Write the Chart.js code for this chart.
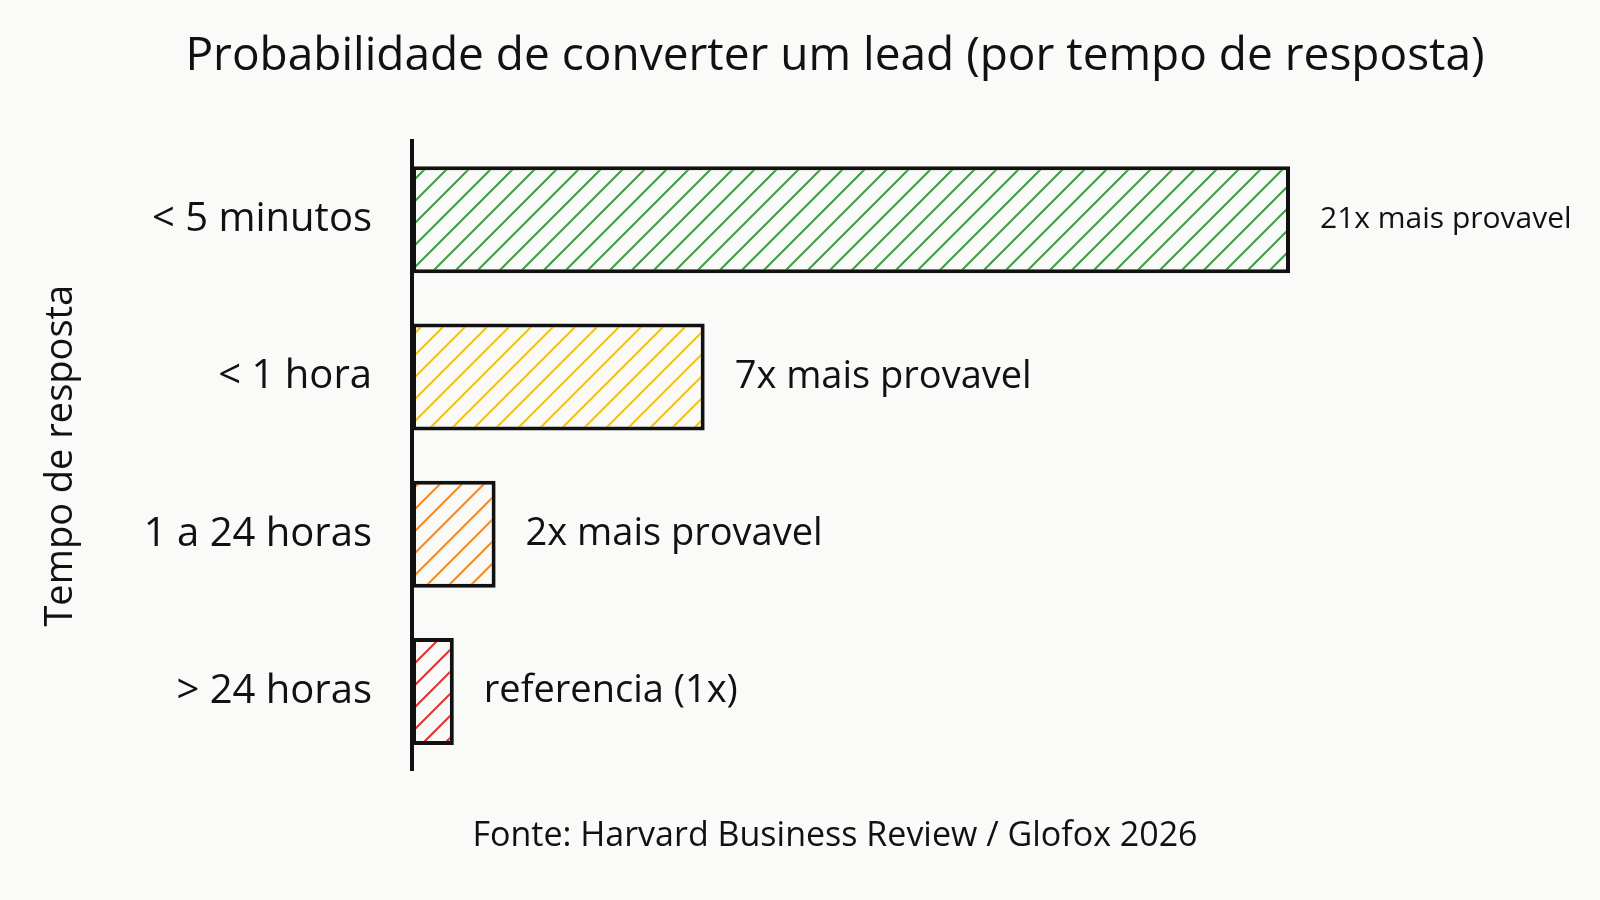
<!DOCTYPE html>
<html><head><meta charset="utf-8">
<script src="https://cdn.jsdelivr.net/npm/chart.js@4.4.1/dist/chart.umd.min.js"></script>
<style>html,body{margin:0;padding:0;background:#fafaf9;}</style>
</head><body>
<canvas id="c" width="1600" height="900"></canvas>
<script>
const categories = ['< 5 minutos', '< 1 hora', '1 a 24 horas', '> 24 horas'];
const likelihood = [21, 7, 2, 1];
const valueLabels = ['21x mais provavel', '7x mais provavel', '2x mais provavel', 'referencia (1x)'];
const barColors = ['#3f9b45', '#f0c21e', '#f18a2a', '#e3302f'];
const titleText = 'Probabilidade de converter um lead (por tempo de resposta)';
const axisTitle = 'Tempo de resposta';
const sourceText = 'Fonte: Harvard Business Review / Glofox 2026';

const F = "'Open Sans', 'Noto Sans', sans-serif";
const INK = '#111111';
const BG = '#fafaf9';

const canvas = document.getElementById('c');
const ctx0 = canvas.getContext('2d');
function hatch(color) {
  const s = 22;
  const c = document.createElement('canvas');
  c.width = s; c.height = s;
  const g = c.getContext('2d');
  g.fillStyle = BG; g.fillRect(0, 0, s, s);
  g.strokeStyle = color; g.lineWidth = 2;
  g.beginPath();
  g.moveTo(-2, s + 2); g.lineTo(s + 2, -2);
  g.moveTo(-s / 2 - 2, s / 2 + 2); g.lineTo(s / 2 + 2, -s / 2 - 2);
  g.moveTo(s / 2 - 2, s * 1.5 + 2); g.lineTo(s * 1.5 + 2, s / 2 - 2);
  g.stroke();
  return ctx0.createPattern(c, 'repeat');
}

const bgPlugin = {
  id: 'bg',
  beforeDraw(chart) {
    const c = chart.ctx;
    c.save(); c.fillStyle = BG; c.fillRect(0, 0, chart.width, chart.height); c.restore();
  }
};

const labelPlugin = {
  id: 'valueLabels',
  afterDatasetsDraw(chart) {
    const c = chart.ctx;
    const meta = chart.getDatasetMeta(0);
    c.save();
    c.fillStyle = INK;
    c.textAlign = 'left';
    c.textBaseline = 'middle';
    meta.data.forEach((el, i) => {
      const x = el.x + 30;
      let size = 38;
      c.font = size + 'px ' + F;
      while (x + c.measureText(valueLabels[i]).width > chart.width - 20 && size > 20) {
        size -= 1;
        c.font = size + 'px ' + F;
      }
      c.fillText(valueLabels[i], x, el.y);
    });
    c.restore();
  }
};

new Chart(canvas, {
  type: 'bar',
  data: {
    labels: categories,
    datasets: [{
      data: likelihood,
      backgroundColor: barColors.map(hatch),
      borderColor: INK,
      borderWidth: 4,
      borderSkipped: false,
      barPercentage: 0.68,
      categoryPercentage: 1
    }]
  },
  options: {
    indexAxis: 'y',
    responsive: false,
    animation: false,
    devicePixelRatio: 1,
    layout: { padding: { left: 70, right: 0, top: 0, bottom: 0 } },
    plugins: {
      legend: { display: false },
      tooltip: { enabled: false },
      title: {
        display: true, text: titleText, color: INK,
        font: { family: F, size: 46, weight: 'normal' },
        padding: { top: 29, bottom: 57 }
      },
      subtitle: {
        display: true, position: 'bottom', text: sourceText, color: INK,
        font: { family: F, size: 34, weight: 'normal' },
        padding: { top: 46, bottom: 43 }
      }
    },
    scales: {
      x: { display: false, min: 0, max: Math.max(...likelihood) },
      y: {
        grid: { display: false, drawTicks: false },
        border: { display: true, color: INK, width: 4 },
        ticks: { color: INK, font: { family: F, size: 40 }, padding: 40 },
        title: {
          display: true, text: axisTitle, color: INK,
          font: { family: F, size: 38 }, padding: { top: -32, bottom: 0 }
        },
        afterFit(scale) { scale.width = 342; }
      },
      yRight: {
        type: 'category', position: 'right', display: true,
        grid: { display: false, drawTicks: false },
        border: { display: false },
        ticks: { display: false },
        afterFit(scale) { scale.width = 310; }
      }
    }
  },
  plugins: [bgPlugin, labelPlugin]
});
</script>
</body></html>
